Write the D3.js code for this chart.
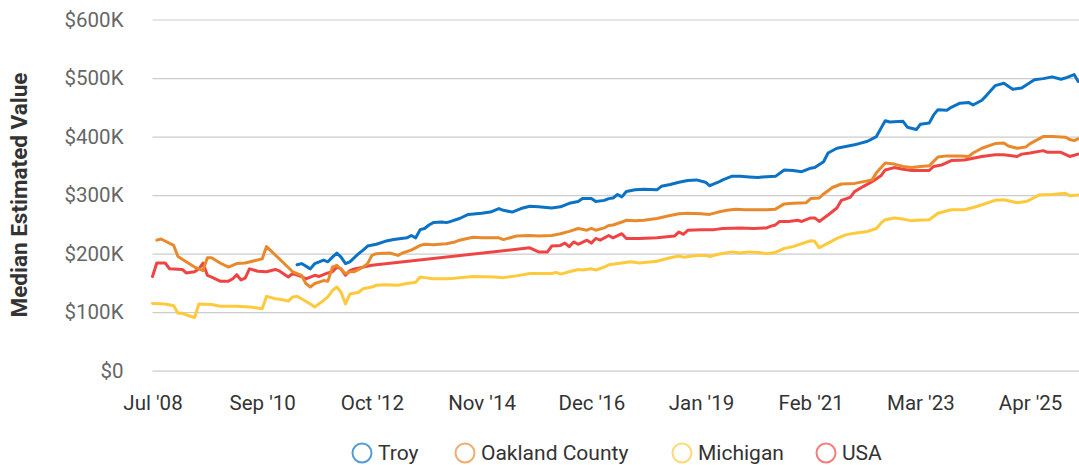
<!DOCTYPE html>
<html>
<head>
<meta charset="utf-8">
<script src="https://cdn.jsdelivr.net/npm/d3@7"></script>
<style>
  html, body { margin: 0; padding: 0; background: #fff; }
  svg { display: block; font-family: Roboto, "Noto Sans", sans-serif; }
</style>
</head>
<body>
<svg id="chart" width="1079" height="465"></svg>
<script>
// ---------- data ----------
const tickDates = ["2008-07","2010-09","2012-10","2014-11","2016-12","2019-01","2021-02","2023-03","2025-04"];
const tickLabels = ["Jul '08","Sep '10","Oct '12","Nov '14","Dec '16","Jan '19","Feb '21","Mar '23","Apr '25"];
const yTickValues = [0, 100, 200, 300, 400, 500, 600];
const yTickLabels = ["$0","$100K","$200K","$300K","$400K","$500K","$600K"];
const seriesNames = ["Troy", "Oakland County", "Michigan", "USA"];

const troyDates = ["2011-05","2011-06","2011-08","2011-09","2011-11","2011-12","2012-01","2012-02","2012-03","2012-04","2012-05","2012-07","2012-08","2012-09","2012-11","2013-01","2013-03","2013-06","2013-07","2013-08","2013-09","2013-10","2013-11","2013-12","2014-02","2014-03","2014-04","2014-06","2014-08","2014-11","2015-01","2015-03","2015-04","2015-06","2015-08","2015-10","2015-12","2016-03","2016-05","2016-07","2016-09","2016-10","2016-12","2017-01","2017-03","2017-04","2017-05","2017-06","2017-07","2017-08","2017-10","2017-12","2018-03","2018-04","2018-06","2018-08","2018-10","2018-12","2019-02","2019-03","2019-04","2019-05","2019-06","2019-08","2019-10","2019-12","2020-02","2020-03","2020-06","2020-08","2020-10","2020-12","2021-02","2021-03","2021-05","2021-06","2021-08","2021-10","2021-12","2022-01","2022-03","2022-05","2022-06","2022-07","2022-08","2022-11","2022-12","2023-02","2023-03","2023-05","2023-06","2023-07","2023-09","2023-10","2023-12","2024-02","2024-03","2024-05","2024-06","2024-08","2024-10","2024-12","2025-02","2025-05","2025-07","2025-09","2025-11","2025-12","2026-02","2026-03"];
const troyValues = [181,183,174,183,189,186,194,201,194,183,186,200,206,213,216,221,224,227,231,227,241,243,249,253,254,253,255,260,267,269,271,277,274,271,277,281,280,278,280,286,289,294,294,289,291,294,295,301,297,306,309,310,309,315,318,322,325,326,322,316,319,322,326,332,332,331,330,331,332,343,342,340,346,347,357,372,380,383,386,388,392,400,414,427,425,426,416,412,421,423,437,446,445,450,457,458,454,462,470,487,491,481,483,497,499,502,498,500,506,494];

const oaklandDates = ["2008-08","2008-09","2008-12","2009-01","2009-03","2009-05","2009-07","2009-08","2009-09","2009-11","2010-01","2010-03","2010-05","2010-09","2010-10","2011-04","2011-06","2011-07","2011-08","2011-09","2011-11","2011-12","2012-01","2012-02","2012-04","2012-05","2012-06","2012-08","2012-09","2012-10","2012-11","2013-02","2013-04","2013-05","2013-07","2013-09","2013-10","2013-12","2014-03","2014-05","2014-06","2014-09","2014-11","2015-03","2015-04","2015-07","2015-10","2015-12","2016-03","2016-05","2016-07","2016-09","2016-11","2016-12","2017-01","2017-03","2017-04","2017-05","2017-07","2017-08","2017-10","2017-12","2018-03","2018-06","2018-08","2018-10","2019-01","2019-03","2019-05","2019-07","2019-09","2019-11","2020-01","2020-04","2020-06","2020-08","2020-10","2021-01","2021-02","2021-04","2021-05","2021-07","2021-09","2021-12","2022-02","2022-04","2022-05","2022-07","2022-09","2022-11","2023-01","2023-03","2023-05","2023-07","2023-09","2023-12","2024-02","2024-03","2024-05","2024-08","2024-10","2024-11","2025-01","2025-03","2025-04","2025-06","2025-07","2025-09","2025-12","2026-01","2026-02","2026-03"];
const oaklandValues = [223,225,214,195,186,177,171,193,193,184,177,183,184,191,212,169,163,149,143,149,154,153,177,180,166,169,169,177,183,197,200,201,197,201,206,214,216,215,217,220,223,228,227,227,224,230,231,230,231,234,238,243,240,243,240,244,248,249,254,257,256,257,260,265,268,269,268,267,271,274,276,275,275,275,276,285,286,287,294,295,302,313,319,320,323,326,338,355,353,349,347,349,350,365,367,367,366,372,380,388,389,384,380,382,388,396,400,400,399,395,393,396];

const michiganDates = ["2008-07","2008-10","2008-12","2009-01","2009-02","2009-04","2009-05","2009-06","2009-09","2009-11","2010-03","2010-06","2010-09","2010-10","2010-12","2011-01","2011-03","2011-04","2011-05","2011-06","2011-08","2011-09","2011-11","2011-12","2012-01","2012-02","2012-03","2012-04","2012-05","2012-07","2012-08","2012-10","2012-11","2013-01","2013-04","2013-06","2013-08","2013-09","2013-10","2013-12","2014-03","2014-05","2014-06","2014-09","2015-02","2015-04","2015-07","2015-10","2016-03","2016-04","2016-05","2016-07","2016-09","2016-10","2016-12","2017-01","2017-03","2017-04","2017-07","2017-09","2017-11","2018-03","2018-06","2018-08","2018-09","2018-12","2019-02","2019-03","2019-05","2019-08","2019-10","2019-12","2020-02","2020-03","2020-04","2020-06","2020-08","2020-10","2020-12","2021-02","2021-03","2021-04","2021-06","2021-08","2021-10","2021-12","2022-03","2022-05","2022-06","2022-07","2022-09","2022-11","2023-01","2023-02","2023-05","2023-07","2023-10","2024-01","2024-04","2024-08","2024-10","2025-01","2025-03","2025-04","2025-06","2025-09","2025-12","2026-01","2026-03"];
const michiganValues = [115,114,111,98,98,93,91,114,113,110,110,109,106,127,123,122,119,126,127,123,114,109,120,126,137,143,134,114,131,134,140,143,146,147,146,149,151,160,159,157,157,158,159,161,160,159,162,166,166,168,165,169,173,172,174,172,177,181,184,186,184,187,193,196,194,197,197,195,199,203,201,203,202,201,200,202,209,212,217,222,221,210,218,226,232,235,238,243,252,258,261,259,256,257,258,269,275,275,281,291,292,287,289,292,300,301,303,299,300];

const usaDates = ["2008-07","2008-08","2008-10","2008-11","2009-02","2009-03","2009-05","2009-06","2009-07","2009-08","2009-09","2009-11","2010-01","2010-02","2010-03","2010-04","2010-05","2010-06","2010-08","2010-10","2010-12","2011-01","2011-03","2011-04","2011-06","2011-07","2011-09","2011-10","2011-12","2012-01","2012-02","2012-03","2012-04","2012-05","2012-06","2012-08","2012-10","2015-10","2015-12","2016-02","2016-03","2016-05","2016-06","2016-07","2016-08","2016-09","2016-11","2016-12","2017-01","2017-02","2017-04","2017-05","2017-07","2017-08","2017-11","2018-03","2018-07","2018-08","2018-09","2018-10","2019-01","2019-04","2019-06","2019-10","2020-01","2020-04","2020-05","2020-06","2020-07","2020-09","2020-11","2020-12","2021-02","2021-03","2021-04","2021-06","2021-08","2021-09","2021-11","2021-12","2022-02","2022-04","2022-06","2022-07","2022-09","2022-11","2023-01","2023-05","2023-06","2023-08","2023-10","2024-01","2024-05","2024-08","2024-10","2025-01","2025-02","2025-04","2025-07","2025-08","2025-11","2026-01","2026-02","2026-03"];
const usaValues = [161,184,184,174,173,167,169,174,184,163,160,153,153,157,164,155,158,174,170,169,173,170,160,166,161,157,163,161,167,169,177,174,163,171,174,177,180,210,203,203,213,214,218,212,220,216,223,218,226,223,231,227,234,226,226,227,230,237,233,240,241,241,243,244,243,244,247,249,255,255,257,255,261,261,255,266,278,291,296,306,315,323,333,343,347,344,342,342,349,352,359,360,366,369,369,366,370,372,376,373,373,366,368,370];

const seriesColors = ["#0b72c4", "#e8892c", "#fec93a", "#ef4444"];

// ---------- chart ----------
const plotLeft = 152.5, plotRight = 1079, plotTop = 19.5, plotBottom = 370.7;
const tickStep = 109.7;
const parse = d3.timeParse("%Y-%m");

const svg = d3.select("#chart");

const x = d3.scaleTime()
  .domain(tickDates.map(parse))
  .range(tickDates.map((d, i) => plotLeft + i * tickStep));

const y = d3.scaleLinear().domain([0, 600]).range([plotBottom, plotTop]);

// gridlines + y labels
const yAxis = d3.axisLeft(y)
  .tickValues(yTickValues)
  .tickSize(-(plotRight - plotLeft))
  .tickPadding(29)
  .tickFormat((d, i) => yTickLabels[i]);
const gy = svg.append("g").attr("transform", `translate(${plotLeft},0)`).call(yAxis);
gy.select(".domain").remove();
gy.selectAll(".tick line").attr("stroke", "#cccccc").attr("stroke-width", 1.2);
gy.selectAll(".tick text").attr("fill", "#666").attr("font-size", 20.5).attr("font-family", "Roboto");

// x labels
const xAxis = d3.axisBottom(x)
  .tickValues(tickDates.map(parse))
  .tickSize(0)
  .tickPadding(0)
  .tickFormat((d, i) => tickLabels[i]);
const gx = svg.append("g").attr("transform", `translate(0,${plotBottom + 25})`).call(xAxis);
gx.select(".domain").remove();
gx.selectAll(".tick text").attr("fill", "#333").attr("font-size", 20.5).attr("font-family", "Roboto").attr("dy", "0.71em");

// y title
svg.append("text")
  .attr("transform", `translate(27,195) rotate(-90)`)
  .attr("text-anchor", "middle")
  .attr("font-size", 22.5)
  .attr("font-weight", "bold")
  .attr("fill", "#333")
  .text("Median Estimated Value");

// lines
const allSeries = [
  { dates: troyDates, values: troyValues },
  { dates: oaklandDates, values: oaklandValues },
  { dates: michiganDates, values: michiganValues },
  { dates: usaDates, values: usaValues }
];
const line = d3.line().x(d => x(d[0])).y(d => y(d[1]));
const drawOrder = [2, 3, 1, 0];
drawOrder.forEach(i => {
  const s = allSeries[i];
  const n = Math.min(s.dates.length, s.values.length);
  const pts = d3.range(n).map(k => [parse(s.dates[k]), s.values[k]]);
  svg.append("path")
    .datum(pts)
    .attr("fill", "none")
    .attr("stroke", seriesColors[i])
    .attr("stroke-width", 3)
    .attr("stroke-linejoin", "round")
    .attr("stroke-linecap", "round")
    .attr("d", line);
});

// legend
const legendX = [362, 465, 682, 826];
const legendY = 453;
const lg = svg.append("g");
seriesNames.forEach((name, i) => {
  lg.append("circle")
    .attr("cx", legendX[i]).attr("cy", legendY).attr("r", 9.5)
    .attr("fill", "#fff")
    .attr("stroke", seriesColors[i]).attr("stroke-opacity", 0.7)
    .attr("stroke-width", 2);
  lg.append("text")
    .attr("x", legendX[i] + 16).attr("y", legendY)
    .attr("dy", "0.35em")
    .attr("font-size", 21)
    .attr("fill", "#333")
    .text(name);
});
</script>
</body>
</html>
